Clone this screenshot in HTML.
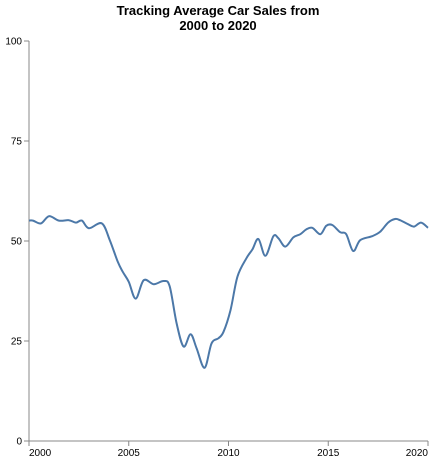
<!DOCTYPE html>
<html><head><meta charset="utf-8"><style>
html,body{margin:0;padding:0;background:#fff;width:435px;height:462px;overflow:hidden}
text{font-family:"Liberation Sans",Arial,sans-serif}
</style></head><body>
<svg id="chart" width="435" height="462" xmlns="http://www.w3.org/2000/svg">
<text x="218" y="15" text-anchor="middle" font-size="13" font-weight="bold">Tracking Average Car Sales from</text>
<text x="218" y="30" text-anchor="middle" font-size="13" font-weight="bold">2000 to 2020</text>
<g id="axes"></g>
<path id="line" fill="none" stroke="#4c78a8" stroke-width="2"></path>
</svg>
<script>
const years=[2000,2000.2,2000.6,2001,2001.5,2002,2002.35,2002.65,2003,2003.65,2004.05,2004.45,2004.7,2005.0,2005.35,2005.75,2006.25,2006.75,2007.05,2007.4,2007.75,2008.1,2008.4,2008.8,2009.15,2009.5,2009.75,2010.1,2010.45,2010.9,2011.2,2011.5,2011.85,2012.25,2012.5,2012.85,2013.25,2013.6,2013.9,2014.2,2014.6,2014.9,2015.2,2015.6,2015.9,2016.25,2016.6,2017.2,2017.6,2018,2018.35,2018.6,2019,2019.3,2019.65,2020];
const sales=[55.1,55.1,54.4,56.2,55.1,55.2,54.6,55.1,53.2,54.4,50.2,44.8,42.3,39.8,35.6,40.2,39.2,40,38.7,29.4,23.6,26.7,23.2,18.3,24.4,25.7,27.3,32.7,41.1,45.7,47.9,50.5,46.3,51.2,50.7,48.6,50.9,51.7,52.9,53.3,51.7,53.8,54,52.2,51.7,47.5,50.2,51.2,52.3,54.6,55.5,55.2,54.2,53.6,54.6,53.3];
const xTicks=[2000,2005,2010,2015,2020];
const yTicks=[0,25,50,75,100];
const X0=29,X1=428,Y0=441,Y1=41;
const x=v=>X0+(v-2000)/20*(X1-X0);
const y=v=>Y0-v/100*(Y0-Y1);
const ns="http://www.w3.org/2000/svg";
const ax=document.getElementById('axes');
function mk(t,a){const e=document.createElementNS(ns,t);for(const k in a)e.setAttribute(k,a[k]);ax.appendChild(e);return e;}
const ya=mk('line',{x1:X0,y1:Y1,x2:X0,y2:Y0,stroke:'#888'});


const xa=mk('line',{x1:X0,y1:Y0,x2:X1,y2:Y0,stroke:'#888'});


yTicks.forEach(v=>{
  const tk=mk('line',{x1:X0-5,y1:y(v),x2:X0,y2:y(v),stroke:'#888'});
  
  
  const t=mk('text',{x:X0-7,y:y(v)+3.5,'text-anchor':'end','font-size':10,fill:'#000'});
  t.textContent=v;
  
  
});
xTicks.forEach(v=>{
  const tk=mk('line',{x1:x(v),y1:Y0,x2:x(v),y2:Y0+5,stroke:'#888'});
  
  
  const t=mk('text',{x:x(v),y:Y0+15,'text-anchor':v===2000?'start':(v===2020?'end':'middle'),'font-size':10,fill:'#000'});
  t.textContent=v;
  
  
});
const P=years.map((yr,i)=>[x(yr),y(sales[i])]);
let d='M'+P[0][0]+','+P[0][1];
for(let i=0;i<P.length-1;i++){
  const p0=P[i-1]||P[i],p1=P[i],p2=P[i+1],p3=P[i+2]||P[i+1];
  const c1=[p1[0]+(p2[0]-p0[0])/6,p1[1]+(p2[1]-p0[1])/6];
  const c2=[p2[0]-(p3[0]-p1[0])/6,p2[1]-(p3[1]-p1[1])/6];
  d+=` C${c1[0]},${c1[1]} ${c2[0]},${c2[1]} ${p2[0]},${p2[1]}`;
}
document.getElementById('line').setAttribute('d',d);
</script>
</body></html>
